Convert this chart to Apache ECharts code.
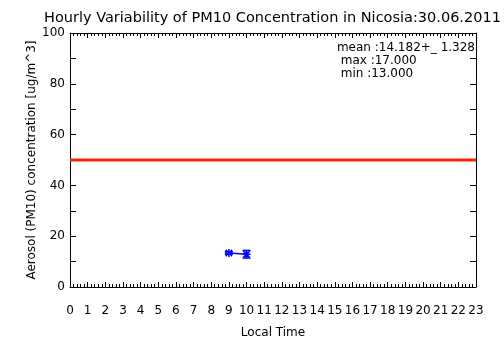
<!DOCTYPE html>
<html><head><meta charset="utf-8">
<script src="https://cdn.jsdelivr.net/npm/echarts@6/dist/echarts.min.js"></script>
<style>html,body{margin:0;padding:0;background:#fff}#c{width:504px;height:361px}</style>
</head><body><div id="c"></div>
<script>
const titleText = 'Hourly Variability of PM10 Concentration in Nicosia:30.06.2011';
const hours = [9, 10];
const hourlyMeans = [13.4, 12.9];
const hourlyErr = [0.5, 1.5];
const limitValue = 50;
const statsLines = ['mean :14.182+_ 1.328', ' max :17.000', ' min :13.000'];

const F = 'DejaVu Sans';
const chart = echarts.init(document.getElementById('c'), null, {renderer: 'canvas'});
const pts = hours.map((h, i) => [h, hourlyMeans[i]]);
const errData = hours.map((h, i) => [h, hourlyMeans[i] - hourlyErr[i], hourlyMeans[i] + hourlyErr[i]]);
const star = 'path://M0,-5L0,5M-5,0L5,0M-4,-4L4,4M-4,4L4,-4';
const axLine = {onZero: false, lineStyle: {color: '#000', width: 1}};

chart.setOption({
  animation: false,
  title: {text: titleText, left: 39, top: 6, textStyle: {fontFamily: F, fontSize: 14.5, fontWeight: 'normal', color: '#000'}},
  grid: {left: 70, right: 28, top: 33, bottom: 74},
  xAxis: [
    {type: 'value', min: 0, max: 23, interval: 1, position: 'bottom',
     name: 'Local Time', nameLocation: 'middle', nameGap: 40,
     nameTextStyle: {fontFamily: F, fontSize: 12, color: '#000'},
     axisLine: axLine,
     axisTick: {inside: true, length: 5, lineStyle: {color: '#000'}},
     minorTick: {show: true, splitNumber: 5, length: 3, lineStyle: {color: '#000'}},
     axisLabel: {fontFamily: F, fontSize: 12, color: '#000', margin: 18},
     splitLine: {show: false}},
    {type: 'value', min: 0, max: 23, interval: 1, position: 'top',
     axisLine: axLine,
     axisTick: {inside: true, length: 5, lineStyle: {color: '#000'}},
     minorTick: {show: true, splitNumber: 5, length: 3, lineStyle: {color: '#000'}},
     axisLabel: {show: false}, splitLine: {show: false}}
  ],
  yAxis: [
    {type: 'value', min: 0, max: 100, interval: 20, position: 'left',
     name: 'Aerosol (PM10) concentration [ug/m^3]', nameLocation: 'middle', nameGap: 32,
     nameMoveOverlap: false,
     nameTextStyle: {fontFamily: F, fontSize: 12, color: '#000'},
     axisLine: axLine,
     axisTick: {inside: true, length: 6, lineStyle: {color: '#000'}},
     minorTick: {show: true, splitNumber: 2, length: 6, lineStyle: {color: '#000'}},
     axisLabel: {fontFamily: F, fontSize: 12, color: '#000', margin: 5},
     splitLine: {show: false}},
    {type: 'value', min: 0, max: 100, interval: 20, position: 'right',
     axisLine: axLine,
     axisTick: {inside: true, length: 6, lineStyle: {color: '#000'}},
     minorTick: {show: true, splitNumber: 2, length: 6, lineStyle: {color: '#000'}},
     axisLabel: {show: false}, splitLine: {show: false}}
  ],
  graphic: [{
    type: 'text', right: 29, top: 41,
    style: {text: statsLines.join('\n'), font: '12px "DejaVu Sans"', fill: '#000', lineHeight: 13}
  }],
  series: [
    {type: 'line', data: [[0, limitValue], [23, limitValue]], showSymbol: false, symbol: 'none',
     lineStyle: {color: '#ff2000', width: 3}, z: 1},
    {type: 'line', data: pts, symbol: star, symbolSize: 8,
     itemStyle: {color: '#0000ff', borderColor: '#0000ff', borderWidth: 1.5},
     lineStyle: {color: '#0000ff', width: 1.5}, z: 3},
    {type: 'custom', data: errData, z: 4,
     renderItem: function (params, api) {
       const x = api.value(0);
       const lo = api.coord([x, api.value(1)]);
       const hi = api.coord([x, api.value(2)]);
       const w = 4;
       const st = {stroke: '#0000ff', lineWidth: 1.5};
       return {type: 'group', children: [
         {type: 'line', shape: {x1: lo[0], y1: lo[1], x2: hi[0], y2: hi[1]}, style: st},
         {type: 'line', shape: {x1: lo[0] - w, y1: lo[1], x2: lo[0] + w, y2: lo[1]}, style: st},
         {type: 'line', shape: {x1: hi[0] - w, y1: hi[1], x2: hi[0] + w, y2: hi[1]}, style: st}
       ]};
     }}
  ]
});
</script></body></html>
